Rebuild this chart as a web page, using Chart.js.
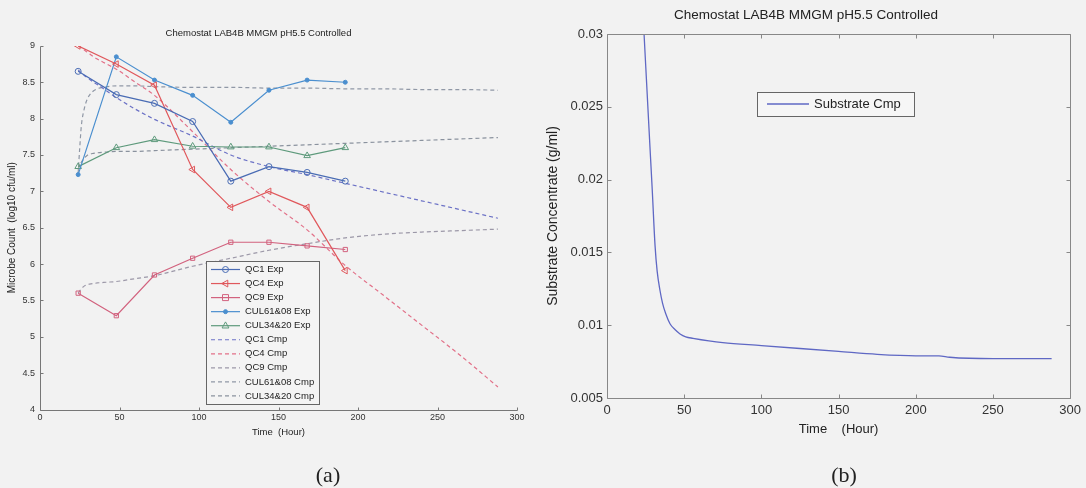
<!DOCTYPE html>
<html lang="en">
<head>
<meta charset="UTF-8">
<title>Chemostat LAB4B MMGM pH5.5 Controlled</title>
<script src="https://cdn.jsdelivr.net/npm/chart.js"></script>
<style>
    html, body { margin: 0; padding: 0; background: #f2f2f2; }
    #page { position: relative; width: 1086px; height: 488px; overflow: hidden; }
    .panel { position: absolute; top: 0; height: 488px; }
    #panelA { left: 0; width: 540px; }
    #panelB { left: 540px; width: 546px; }
    .cap { position: absolute; top: 475px; transform: translate(-50%, -50%);
           font-family: "Liberation Serif", "Times New Roman", serif; font-size: 22px; color: #222; }
</style>
</head>
<body>
<div id="page">
    <div class="panel" id="panelA"><canvas id="chartA"></canvas></div>
    <div class="panel" id="panelB"><canvas id="chartB"></canvas></div>
    <div class="cap" style="left:328px">(a)</div>
    <div class="cap" style="left:844px">(b)</div>
</div>

<script>
    // ---- panel (a): microbe counts ----
    const expHours = [24, 48, 72, 96, 120, 144, 168, 192];
    const qc1Exp     = [8.65, 8.33, 8.21, 7.96, 7.14, 7.34, 7.26, 7.14];
    const qc4Exp     = [9.00, 8.75, 8.46, 7.30, 6.78, 7.00, 6.78, 5.91];
    const qc9Exp     = [5.60, 5.29, 5.85, 6.08, 6.30, 6.30, 6.25, 6.20];
    const cul6108Exp = [7.23, 8.85, 8.53, 8.32, 7.95, 8.39, 8.53, 8.50];
    const cul3420Exp = [7.34, 7.60, 7.71, 7.62, 7.61, 7.61, 7.49, 7.60];

    const cmpHours = [24, 25, 26, 28, 30, 33, 36, 42, 48, 60, 72, 96, 120, 144, 168, 192, 216, 240, 264, 288];
    const qc1Cmp     = [8.67, 8.65, 8.63, 8.59, 8.56, 8.51, 8.47, 8.38, 8.29, 8.13, 7.99, 7.76, 7.50, 7.34, 7.23, 7.11, 6.99, 6.87, 6.75, 6.63];
    const qc4Cmp     = [9.00, 8.99, 8.97, 8.94, 8.91, 8.86, 8.82, 8.75, 8.68, 8.50, 8.32, 7.82, 7.30, 6.86, 6.47, 5.98, 5.57, 5.16, 4.75, 4.31];
    const qc9Cmp     = [5.60, 5.63, 5.66, 5.70, 5.72, 5.73, 5.74, 5.75, 5.76, 5.80, 5.84, 5.97, 6.08, 6.19, 6.28, 6.36, 6.41, 6.44, 6.46, 6.48];
    const cul6108Cmp = [7.25, 7.60, 7.90, 8.15, 8.28, 8.37, 8.41, 8.44, 8.45, 8.45, 8.44, 8.43, 8.43, 8.42, 8.42, 8.41, 8.41, 8.40, 8.40, 8.39];
    const cul3420Cmp = [7.30, 7.36, 7.40, 7.46, 7.50, 7.52, 7.53, 7.54, 7.55, 7.55, 7.56, 7.58, 7.60, 7.62, 7.64, 7.66, 7.68, 7.70, 7.72, 7.74];

    const xTicks  = [0, 50, 100, 150, 200, 250, 300];
    const yTicksA = [4, 4.5, 5, 5.5, 6, 6.5, 7, 7.5, 8, 8.5, 9];

    // ---- panel (b): substrate ----
    const subHours = [24, 27.4, 29.3, 31.1, 32.5, 34.3, 36, 38, 40.8, 44, 47.3, 51, 55.7, 75, 100, 125, 150, 175, 200, 215, 222, 250, 270, 288];
    const subConc  = [0.0300, 0.0231, 0.0193, 0.0155, 0.0137, 0.0124, 0.0115, 0.0108, 0.0101, 0.0097, 0.0094, 0.0092, 0.0091, 0.0088,
                      0.0086, 0.0084, 0.0082, 0.0080, 0.0079, 0.0079, 0.0078, 0.0077, 0.0077, 0.0077];
    const yTicksB = [0.005, 0.01, 0.015, 0.02, 0.025, 0.03];

    const FONT = '"Liberation Sans", Arial, sans-serif';
    Chart.defaults.font.family = FONT;
    Chart.defaults.color = '#333';

    function pts(xs, ys) {
        return xs.map((x, i) => ({ x: x, y: ys[i] }));
    }

    function expSet(label, ys, color, style, radius, rotation, fill) {
        return {
            label: label, data: pts(expHours, ys),
            borderColor: color, borderWidth: 1.2,
            pointStyle: style, pointRadius: radius, pointRotation: rotation || 0,
            pointBorderColor: color, pointBorderWidth: 1,
            pointBackgroundColor: fill ? color : 'rgba(0,0,0,0)'
        };
    }

    function cmpSet(label, ys, color) {
        return {
            label: label, data: pts(cmpHours, ys),
            borderColor: color, borderWidth: 1.2, borderDash: [4, 3],
            pointRadius: 0, cubicInterpolationMode: 'monotone'
        };
    }

    function drawMarker(ctx, style, x, y, r, rot) {
        ctx.save();
        ctx.translate(x, y);
        ctx.rotate((rot || 0) * Math.PI / 180);
        ctx.beginPath();
        if (style === 'rect') {
            ctx.rect(-r, -r, 2 * r, 2 * r);
        } else if (style === 'triangle') {
            ctx.moveTo(0, -r);
            ctx.lineTo(r * 0.9, r * 0.6);
            ctx.lineTo(-r * 0.9, r * 0.6);
            ctx.closePath();
        } else {
            ctx.arc(0, 0, r, 0, Math.PI * 2);
        }
        ctx.fill();
        ctx.stroke();
        ctx.restore();
    }

    // axis lines with inward ticks, matlab style
    const framePlugin = {
        id: 'frame',
        afterDatasetsDraw(chart, args, o) {
            const ctx = chart.ctx, a = chart.chartArea;
            const sx = chart.scales.x, sy = chart.scales.y;
            const L = Math.round(a.left) + 0.5, R = Math.round(a.right) + 0.5;
            const T = Math.round(a.top) + 0.5, B = Math.round(a.bottom) + 0.5;
            ctx.save();
            ctx.strokeStyle = o.color;
            ctx.lineWidth = 1;
            ctx.beginPath();
            ctx.moveTo(L, T); ctx.lineTo(L, B); ctx.lineTo(R, B);
            if (o.box) { ctx.lineTo(R, T); ctx.lineTo(L, T); }
            sx.ticks.forEach(t => {
                const px = Math.round(sx.getPixelForValue(t.value)) + 0.5;
                ctx.moveTo(px, B); ctx.lineTo(px, B - o.tick);
                if (o.box) { ctx.moveTo(px, T); ctx.lineTo(px, T + o.tick); }
            });
            sy.ticks.forEach(t => {
                const py = Math.round(sy.getPixelForValue(t.value)) + 0.5;
                ctx.moveTo(L, py); ctx.lineTo(L + o.tick, py);
                if (o.box) { ctx.moveTo(R, py); ctx.lineTo(R - o.tick, py); }
            });
            ctx.stroke();
            ctx.restore();
        }
    };

    // legend box placed inside the axes
    const boxLegendPlugin = {
        id: 'boxLegend',
        afterDraw(chart, args, o) {
            const ctx = chart.ctx;
            ctx.save();
            ctx.fillStyle = o.background;
            ctx.fillRect(o.left, o.top, o.width, o.height);
            ctx.strokeStyle = o.borderColor;
            ctx.lineWidth = 1;
            ctx.strokeRect(o.left + 0.5, o.top + 0.5, o.width, o.height);
            ctx.font = o.font;
            ctx.textBaseline = 'middle';
            chart.data.datasets.forEach((ds, i) => {
                const cy = o.top + o.firstRow + i * o.rowHeight;
                const x0 = o.left + o.sampleStart, x1 = x0 + o.sampleWidth;
                ctx.strokeStyle = ds.borderColor;
                ctx.lineWidth = ds.borderWidth;
                ctx.setLineDash(ds.borderDash || []);
                ctx.beginPath(); ctx.moveTo(x0, cy); ctx.lineTo(x1, cy); ctx.stroke();
                ctx.setLineDash([]);
                if (ds.pointRadius) {
                    ctx.fillStyle = ds.pointBackgroundColor;
                    ctx.lineWidth = 1;
                    drawMarker(ctx, ds.pointStyle, (x0 + x1) / 2, cy, ds.pointRadius, ds.pointRotation);
                }
                ctx.fillStyle = o.color;
                ctx.fillText(ds.label, o.left + o.textStart, cy);
            });
            ctx.restore();
        }
    };

    function fixed(list) {
        return function(scale) { scale.ticks = list.map(v => ({ value: v })); };
    }

    // chart A
    new Chart(document.getElementById('chartA'), {
        type: 'line',
        data: {
            datasets: [
                expSet('QC1 Exp', qc1Exp, '#4a6cb4', 'circle', 3),
                expSet('QC4 Exp', qc4Exp, '#e0585c', 'triangle', 3.8, -90),
                expSet('QC9 Exp', qc9Exp, '#d2627e', 'rect', 3),
                expSet('CUL61&08 Exp', cul6108Exp, '#4b8fcf', 'circle', 2, 0, true),
                expSet('CUL34&20 Exp', cul3420Exp, '#5e9a7c', 'triangle', 3.8),
                cmpSet('QC1 Cmp', qc1Cmp, '#6c72c6'),
                cmpSet('QC4 Cmp', qc4Cmp, '#e27088'),
                cmpSet('QC9 Cmp', qc9Cmp, '#9c98a8'),
                cmpSet('CUL61&08 Cmp', cul6108Cmp, '#9098a6'),
                cmpSet('CUL34&20 Cmp', cul3420Cmp, '#8a929e')
            ]
        },
        options: {
            responsive: true, maintainAspectRatio: false, animation: false,
            layout: { padding: { left: 0, right: 23, top: 0, bottom: 0 } },
            plugins: {
                legend: { display: false },
                tooltip: { enabled: false },
                title: {
                    display: true, text: 'Chemostat LAB4B MMGM pH5.5 Controlled', color: '#222',
                    font: { size: 9.5, weight: 'normal' }, padding: { top: 28, bottom: 6.5 }
                },
                frame: { color: '#777', tick: 3, box: false },
                boxLegend: {
                    left: 206, top: 261, width: 113, height: 143, firstRow: 8.5, rowHeight: 14.05,
                    sampleStart: 5, sampleWidth: 29, textStart: 39,
                    font: '9.5px ' + FONT, color: '#222', background: '#f4f4f4', borderColor: '#666'
                }
            },
            scales: {
                x: {
                    type: 'linear', min: 0, max: 300,
                    afterBuildTicks: fixed(xTicks),
                    afterFit: s => { s.height = 78.5; },
                    grid: { display: false, drawTicks: false, tickLength: 0 },
                    border: { display: false },
                    ticks: { font: { size: 9 }, padding: 3, maxRotation: 0 },
                    title: { display: true, text: 'Time  (Hour)', font: { size: 9.5 }, color: '#222', padding: { top: 0, bottom: 50 } }
                },
                y: {
                    type: 'linear', min: 4, max: 9,
                    afterBuildTicks: fixed(yTicksA),
                    afterFit: s => { s.width = 40; },
                    grid: { display: false, drawTicks: false, tickLength: 0 },
                    border: { display: false },
                    ticks: { font: { size: 9 }, padding: 5, callback: v => String(Number(v.toFixed(1))) },
                    title: { display: true, text: 'Microbe Count  (log10 cfu/ml)', font: { size: 10 }, color: '#222', padding: 6 }
                }
            }
        },
        plugins: [framePlugin, boxLegendPlugin]
    });

    // chart B
    new Chart(document.getElementById('chartB'), {
        type: 'line',
        data: {
            datasets: [{
                label: 'Substrate Cmp', data: pts(subHours, subConc),
                borderColor: '#5f68c4', borderWidth: 1.3, pointRadius: 0,
                cubicInterpolationMode: 'monotone'
            }]
        },
        options: {
            responsive: true, maintainAspectRatio: false, animation: false,
            layout: { padding: { left: 0, right: 14, top: 0, bottom: 0 } },
            plugins: {
                legend: { display: false },
                tooltip: { enabled: false },
                title: {
                    display: true, text: 'Chemostat LAB4B MMGM pH5.5 Controlled', color: '#222',
                    font: { size: 13.5, weight: 'normal' }, padding: { top: 7.5, bottom: 10.3 }
                },
                frame: { color: '#888', tick: 4, box: true },
                boxLegend: {
                    left: 217, top: 92, width: 157, height: 24, firstRow: 12, rowHeight: 0,
                    sampleStart: 10, sampleWidth: 42, textStart: 57,
                    font: '13px ' + FONT, color: '#222', background: '#f6f6f6', borderColor: '#666'
                }
            },
            scales: {
                x: {
                    type: 'linear', min: 0, max: 300,
                    afterBuildTicks: fixed(xTicks),
                    afterFit: s => { s.height = 90; },
                    grid: { display: false, drawTicks: false, tickLength: 0 },
                    border: { display: false },
                    ticks: { font: { size: 13 }, padding: 5, maxRotation: 0 },
                    title: { display: true, text: 'Time    (Hour)', font: { size: 13 }, color: '#222', padding: { top: 0, bottom: 51 } }
                },
                y: {
                    type: 'linear', min: 0.005, max: 0.03,
                    afterBuildTicks: fixed(yTicksB),
                    afterFit: s => { s.width = 67; },
                    grid: { display: false, drawTicks: false, tickLength: 0 },
                    border: { display: false },
                    ticks: { font: { size: 13 }, padding: 4, callback: v => String(Number(v.toFixed(3))) },
                    title: { display: true, text: 'Substrate Concentrate (g/ml)', font: { size: 14 }, color: '#222', padding: 5 }
                }
            }
        },
        plugins: [framePlugin, boxLegendPlugin]
    });
</script>
</body>
</html>
